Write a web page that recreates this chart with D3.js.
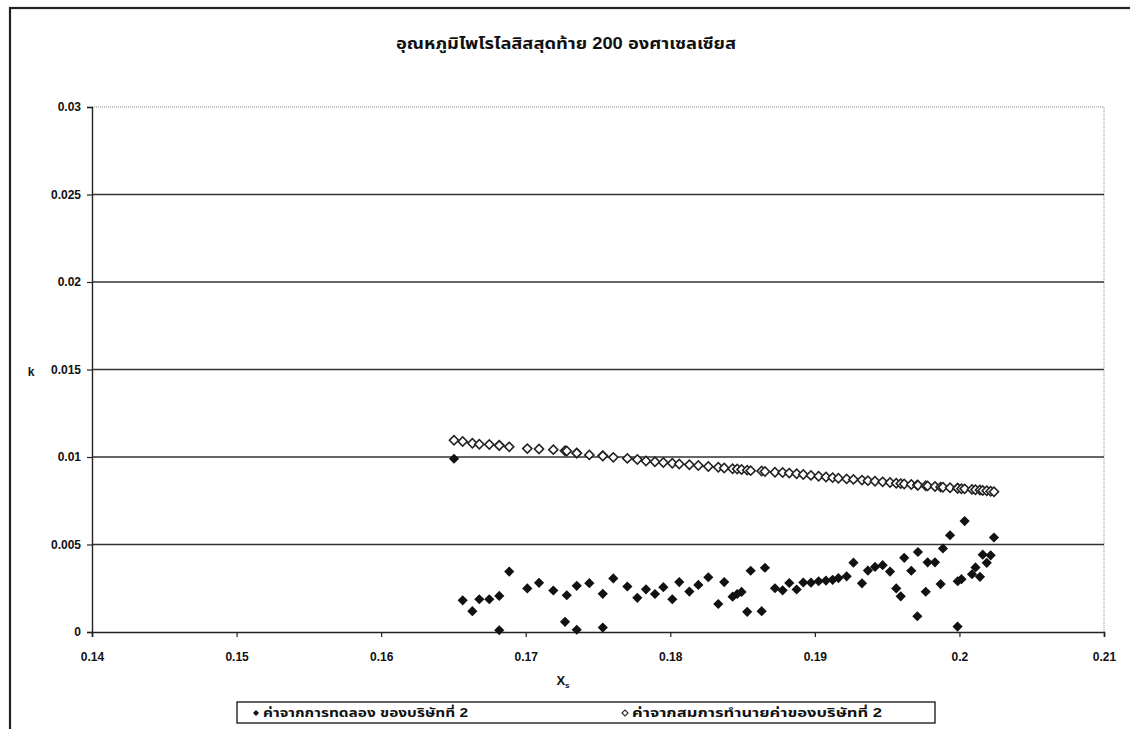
<!DOCTYPE html>
<html>
<head>
<meta charset="utf-8">
<script src="https://cdn.jsdelivr.net/npm/d3@7"></script>
<style>
  html, body { margin: 0; padding: 0; background: #fff; }
  svg { display: block; }
  text { font-family: "Liberation Sans", Arial, "Noto Sans Thai", sans-serif; fill: #111; }
</style>
</head>
<body>
<svg id="chart" width="1130" height="729"></svg>
<script>
const chartTitle = "อุณหภูมิไพโรไลสิสสุดท้าย 200 องศาเซลเซียส";
const seriesNames = ["ค่าจากการทดลอง ของบริษัทที่ 2", "ค่าจากสมการทำนายค่าของบริษัทที่ 2"];
const xTicks = [0.14, 0.15, 0.16, 0.17, 0.18, 0.19, 0.2, 0.21];
const yTicks = [0, 0.005, 0.01, 0.015, 0.02, 0.025, 0.03];

const xs = [
  0.16504,0.16564,0.16631,0.16679,0.16748,0.16817,0.16817,0.16886,0.17011,0.17092,
  0.17191,0.17272,0.17284,0.17353,0.17353,0.17440,0.17533,0.17533,0.17606,0.17703,
  0.17772,0.17832,0.17894,0.17952,0.18014,0.18062,0.18132,0.18194,0.18263,0.18332,
  0.18373,0.18431,0.18463,0.18493,0.18532,0.18556,0.18632,0.18655,0.18724,0.18777,
  0.18823,0.18874,0.18920,0.18973,0.19026,0.19077,0.19123,0.19163,0.19220,0.19267,
  0.19326,0.19367,0.19416,0.19469,0.19520,0.19563,0.19594,0.19618,0.19667,0.19709,
  0.19713,0.19767,0.19780,0.19831,0.19870,0.19886,0.19935,0.19987,0.19988,0.20014,
  0.20036,0.20087,0.20111,0.20142,0.20161,0.20189,0.20216,0.20239
];
const kExperimental = [
  0.0099,0.00181,0.00119,0.00187,0.00187,0.00206,0.0001,0.00345,0.00249,0.00281,
  0.00237,0.00058,0.0021,0.00264,0.00013,0.00279,0.00218,0.00025,0.00306,0.0026,
  0.00195,0.00244,0.00217,0.00256,0.00187,0.00285,0.00231,0.00269,0.00313,0.0016,
  0.00285,0.00202,0.00217,0.00229,0.00115,0.0035,0.00119,0.00367,0.0025,0.00238,
  0.0028,0.00243,0.00283,0.00282,0.0029,0.00294,0.00298,0.00308,0.00318,0.00396,
  0.00278,0.00351,0.00372,0.00382,0.00345,0.00249,0.00204,0.00424,0.0035,0.0009,
  0.00457,0.0023,0.00398,0.00398,0.00274,0.00477,0.00553,0.00031,0.0029,0.00302,
  0.00634,0.0033,0.00369,0.00315,0.00442,0.00395,0.00438,0.0054
];
const kPredicted = [
  0.01096,0.01089,0.01079,0.01073,0.01071,0.01067,0.01066,0.01058,0.01048,0.01046,
  0.01042,0.01036,0.01034,0.01023,0.01022,0.01012,0.01008,0.01006,0.00998,0.00992,
  0.00986,0.00977,0.00973,0.00969,0.00964,0.00960,0.00956,0.00951,0.00946,0.00941,
  0.00937,0.00933,0.00931,0.00929,0.00925,0.00922,0.00920,0.00917,0.00913,0.00911,
  0.00908,0.00904,0.00900,0.00895,0.00890,0.00886,0.00882,0.00879,0.00875,0.00872,
  0.00868,0.00865,0.00861,0.00858,0.00854,0.00850,0.00848,0.00846,0.00843,0.00840,
  0.00839,0.00836,0.00835,0.00831,0.00828,0.00827,0.00824,0.00821,0.00821,0.00819,
  0.00818,0.00815,0.00813,0.00811,0.00809,0.00807,0.00804,0.00801
];

const svg = d3.select("#chart");
const plot = { left: 92, right: 1104, top: 107, bottom: 632 };

const x = d3.scaleLinear().domain([0.14, 0.21]).range([plot.left, plot.right]);
const y = d3.scaleLinear().domain([0, 0.03]).range([plot.bottom, plot.top]);

// Outer chart frame
svg.append("rect")
  .attr("x", 10).attr("y", 8)
  .attr("width", 1140).attr("height", 740)
  .attr("fill", "none").attr("stroke", "#222").attr("stroke-width", 2.2);

// Title
svg.append("text")
  .attr("x", 566).attr("y", 49)
  .attr("text-anchor", "middle")
  .attr("font-size", 16).attr("font-weight", "bold")
  .attr("textLength", 340).attr("lengthAdjust", "spacingAndGlyphs")
  .text(chartTitle);

// Plot border (dotted top & right)
svg.append("line")
  .attr("x1", plot.left).attr("x2", plot.right)
  .attr("y1", plot.top).attr("y2", plot.top)
  .attr("stroke", "#888").attr("stroke-width", 1).attr("stroke-dasharray", "1,1");
svg.append("line")
  .attr("x1", plot.right).attr("x2", plot.right)
  .attr("y1", plot.top).attr("y2", plot.bottom)
  .attr("stroke", "#888").attr("stroke-width", 1).attr("stroke-dasharray", "1,1");

// Gridlines
svg.append("g")
  .selectAll("line")
  .data(yTicks.filter(v => v > 0 && v < 0.03))
  .join("line")
  .attr("x1", plot.left).attr("x2", plot.right)
  .attr("y1", d => y(d)).attr("y2", d => y(d))
  .attr("stroke", "#333").attr("stroke-width", 1.4);

// Y axis
const yAxis = svg.append("g")
  .attr("transform", `translate(${plot.left},0)`)
  .call(d3.axisLeft(y).tickValues(yTicks).tickFormat(d => String(+d.toFixed(3))).tickSize(5).tickPadding(6));
yAxis.select(".domain").attr("stroke", "#222").attr("stroke-width", 1.4);
yAxis.selectAll(".tick line").attr("stroke", "#222").attr("stroke-width", 1.2);
yAxis.selectAll(".tick text")
  .attr("font-size", 12).attr("font-weight", "bold")
  .attr("font-family", "Liberation Sans, Arial, sans-serif").attr("fill", "#111");

// X axis
const xAxis = svg.append("g")
  .attr("transform", `translate(0,${plot.bottom})`)
  .call(d3.axisBottom(x).tickValues(xTicks).tickFormat(d => String(+d.toFixed(2))).tickSize(5).tickPadding(15));
xAxis.select(".domain").attr("stroke", "#222").attr("stroke-width", 1.6);
xAxis.selectAll(".tick line").attr("stroke", "#222").attr("stroke-width", 1.2);
xAxis.selectAll(".tick text")
  .attr("font-size", 12).attr("font-weight", "bold")
  .attr("font-family", "Liberation Sans, Arial, sans-serif").attr("fill", "#111");

// Axis titles
svg.append("text")
  .attr("x", 31).attr("y", 376)
  .attr("text-anchor", "middle")
  .attr("font-size", 12).attr("font-weight", "bold")
  .text("k");
const xt = svg.append("text")
  .attr("x", 563).attr("y", 685)
  .attr("text-anchor", "middle")
  .attr("font-size", 13).attr("font-weight", "bold");
xt.append("tspan").text("X");
xt.append("tspan").attr("font-size", 8).attr("dy", 3).text("s");

// Markers
const openDiamond = d3.symbol().type(d3.symbolSquare).size(42);
const filledDiamond = d3.symbol().type(d3.symbolSquare).size(52);
const pts = xs.map((v, i) => ({ x: v, e: kExperimental[i], p: kPredicted[i] }));

svg.append("g")
  .selectAll("path")
  .data(pts)
  .join("path")
  .attr("d", openDiamond)
  .attr("transform", d => `translate(${x(d.x)},${y(d.p)}) rotate(45)`)
  .attr("fill", "#fff").attr("stroke", "#222").attr("stroke-width", 1.6);

svg.append("g")
  .selectAll("path")
  .data(pts)
  .join("path")
  .attr("d", filledDiamond)
  .attr("transform", d => `translate(${x(d.x)},${y(d.e)}) rotate(45)`)
  .attr("fill", "#111");

// Legend
const lg = svg.append("g");
lg.append("rect")
  .attr("x", 237).attr("y", 702)
  .attr("width", 698).attr("height", 21)
  .attr("fill", "#fff").attr("stroke", "#222").attr("stroke-width", 1.4);
const legendSym = d3.symbol().type(d3.symbolSquare).size(18);
lg.append("path").attr("d", legendSym)
  .attr("transform", "translate(256,713) rotate(45)")
  .attr("fill", "#111");
lg.append("text").attr("x", 263).attr("y", 717)
  .attr("font-size", 12).attr("font-weight", "bold")
  .attr("textLength", 205).attr("lengthAdjust", "spacingAndGlyphs")
  .text(seriesNames[0]);
lg.append("path").attr("d", legendSym)
  .attr("transform", "translate(625,713) rotate(45)")
  .attr("fill", "#fff").attr("stroke", "#222").attr("stroke-width", 1.2);
lg.append("text").attr("x", 632).attr("y", 717)
  .attr("font-size", 12).attr("font-weight", "bold")
  .attr("textLength", 250).attr("lengthAdjust", "spacingAndGlyphs")
  .text(seriesNames[1]);
</script>
</body>
</html>
